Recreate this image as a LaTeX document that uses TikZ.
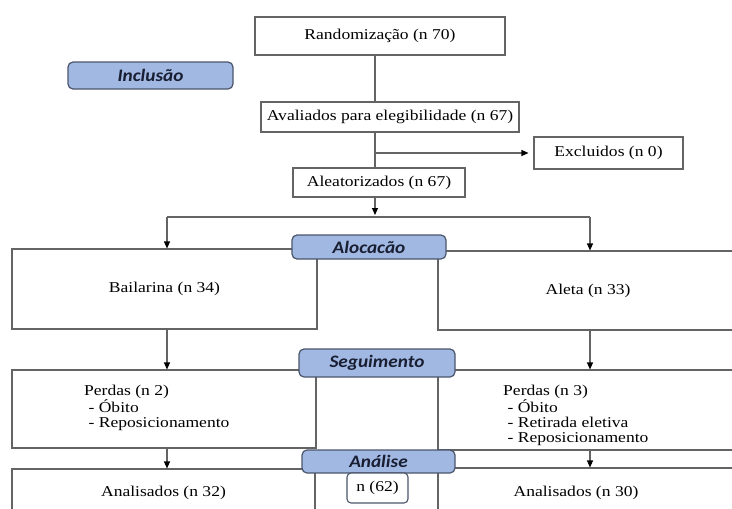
\documentclass[tikz,border=0pt]{standalone}
\usepackage{fontspec}
\setmainfont{Liberation Serif}[FakeStretch=1.17]
\newfontfamily\tagfont{Carlito}[FakeStretch=1.1]
\usetikzlibrary{arrows.meta}
\definecolor{tagblue}{RGB}{160,184,226}
\definecolor{tagline}{RGB}{75,85,105}
\definecolor{tagtext}{RGB}{25,30,50}
\definecolor{boxline}{RGB}{100,100,100}

\begin{document}
\begin{tikzpicture}[x = 1pt, y = -1pt,
  >={Triangle[length=7pt,width=6pt,color=black]},
  font=\fontsize{15}{15}\selectfont,
  box/.style={draw=boxline, line width=1.1pt, fill=white, inner sep=0pt},
  tag/.style={draw=tagline, line width=1.2pt, fill=tagblue, rounded corners=5pt,
    inner sep=0pt, text=tagtext, font=\tagfont\bfseries\itshape\fontsize{17.5}{17.5}\selectfont},
  count/.style={draw=tagline, line width=1.1pt, fill=white, rounded corners=4pt, inner sep=0pt},
  txt/.style={align=left, inner sep=0pt}]
\path[use as bounding box, clip] (0,0) rectangle (732,509);

\node [box, minimum width=250pt, minimum height=38pt] (rand) at (380,36) {Randomização (n 70)};
\node [box, minimum width=258pt, minimum height=30pt] (aval) at (390,117) {Avaliados para elegibilidade (n 67)};
\node [box, minimum width=149pt, minimum height=32pt] (excl) at (608.5,153) {Excluidos (n 0)};
\node [box, minimum width=172pt, minimum height=29pt] (alea) at (379,182.5) {Aleatorizados (n 67)};
\node [box, minimum width=305pt, minimum height=80pt] (bail) at (164.5,289) {Bailarina (n 34)};
\node [box, minimum width=300pt, minimum height=79pt] (aleta) at (588,290.5) {Aleta (n 33)};
\node [box, minimum width=304pt, minimum height=78pt] (perd_l) at (164,409) {};
\node [box, minimum width=307pt, minimum height=80pt] (perd_r) at (591.5,410) {};
\node [box, minimum width=303pt, minimum height=48pt] (anal_l) at (163.5,493) {Analisados (n 32)};
\node [box, minimum width=307pt, minimum height=50pt] (anal_r) at (591.5,493) {};

\node [txt, anchor=west] (perd_l_txt) at (84,408) {Perdas (n 2)\\~- Óbito\\~- Reposicionamento};
\node [txt, anchor=west] (perd_r_txt) at (503,415) {Perdas (n 3)\\~- Óbito\\~- Retirada eletiva\\~- Reposicionamento};
\node [txt] (anal_r_txt) at (576,493) {Analisados (n 30)};

\coordinate (split) at (375,153);
\coordinate (fork) at (375,217);
\coordinate (fork_l) at (167,217);
\coordinate (fork_r) at (590,217);

\path[draw=boxline, line width=1.1pt]
(rand.south -| split) edge (aval.north -| split)
(aval.south -| split) edge (alea.north -| split)
(split) edge [->, shorten >=5pt] (excl)
(alea.south -| fork) edge [->, shorten >=2pt] (fork)
(fork_l) edge (fork_r)
(fork_l) edge [->] (bail.north -| fork_l)
(fork_r) edge [->] (aleta.north -| fork_r)
(bail.south -| fork_l) edge [->] (perd_l.north -| fork_l)
(aleta.south -| fork_r) edge [->] (perd_r.north -| fork_r)
(perd_l.south -| fork_l) edge [->] (anal_l.north -| fork_l)
(perd_r.south -| fork_r) edge [->] (anal_r.north -| fork_r);

\node [tag, minimum width=165pt, minimum height=27pt] (inc) at (150.5,75.5) {Inclusão};
\node [tag, minimum width=154pt, minimum height=24pt] (aloc) at (369,247) {Alocacão};
\node [tag, minimum width=156pt, minimum height=28pt] (seg) at (377,363) {Seguimento};
\node [tag, minimum width=153pt, minimum height=23pt] (anal) at (378.5,461.5) {Análise};
\node [count, minimum width=61pt, minimum height=30pt] (n_tot) at (377.5,488) {n (62)};
\end{tikzpicture}
\end{document}
